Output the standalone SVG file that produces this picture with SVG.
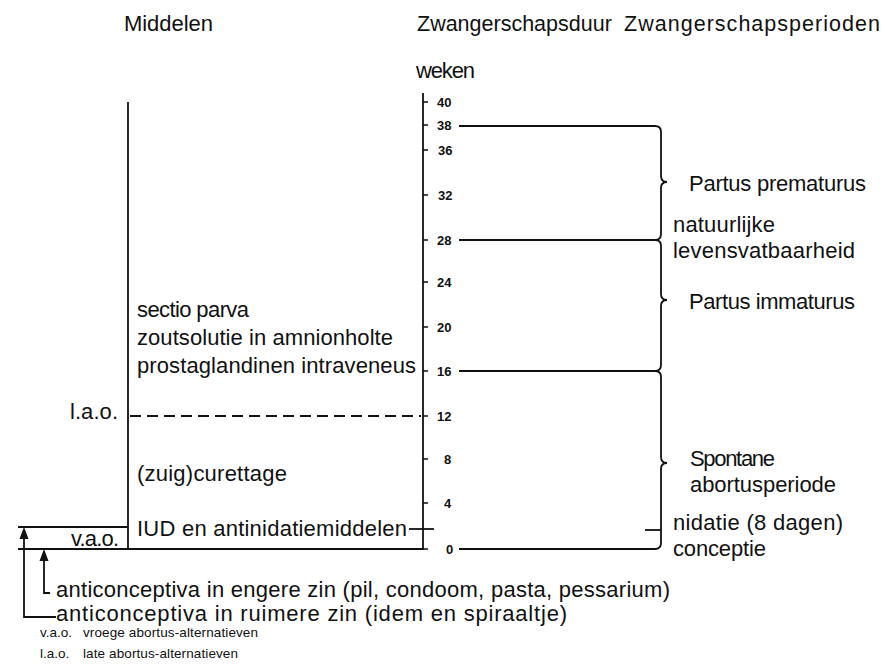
<svg xmlns="http://www.w3.org/2000/svg" width="885" height="671" viewBox="0 0 885 671">
<style>
text{font-family:"Liberation Sans",Arial,sans-serif;fill:#111}
.t{font-size:22px}
.h{font-size:21.5px}
.n{font-size:13px;font-weight:bold}
.s{font-size:13.5px}
.ln{stroke:#111;stroke-width:1.8;fill:none}
.tk{stroke:#111;stroke-width:1.6;fill:none}
.hd{fill:#111;stroke:none}
</style>
<rect width="885" height="671" fill="#fff"/>

<g id="headers">
<text class="t" x="124" y="31" textLength="89" lengthAdjust="spacing">Middelen</text>
<text class="h" x="417" y="31">Zwangerschapsduur</text>
<text class="h" x="624" y="31" textLength="256" lengthAdjust="spacing">Zwangerschapsperioden</text>
<text class="t" x="416" y="78" textLength="59" lengthAdjust="spacing">weken</text>
</g>

<g id="axis">
<line class="ln" x1="423" y1="93" x2="423" y2="550"/>
<path class="tk" d="M423 102H428M423 125H428M423 150H428M423 195H428M423 240H428M423 282H428M423 327H428M423 371H428M423 416H428M423 459H428M423 503H428M423 549H428"/>
<text class="n" x="437" y="107">40</text>
<text class="n" x="437" y="130">38</text>
<text class="n" x="438" y="155">36</text>
<text class="n" x="438" y="200">32</text>
<text class="n" x="437" y="245">28</text>
<text class="n" x="437" y="287">24</text>
<text class="n" x="437" y="332">20</text>
<text class="n" x="437" y="376">16</text>
<text class="n" x="437" y="421">12</text>
<text class="n" x="444" y="464">8</text>
<text class="n" x="444" y="508">4</text>
<text class="n" x="446" y="554">0</text>
</g>

<g id="middelen">
<line class="ln" x1="128" y1="102" x2="128" y2="549"/>
<line class="ln" x1="130" y1="416" x2="421" y2="416" stroke-dasharray="11 6"/>
<text class="t" x="137" y="317" textLength="112" lengthAdjust="spacing">sectio parva</text>
<text class="t" x="137" y="345" textLength="256" lengthAdjust="spacing">zoutsolutie in amnionholte</text>
<text class="t" x="137" y="373" textLength="279" lengthAdjust="spacing">prostaglandinen intraveneus</text>
<text class="t" x="70" y="419" textLength="48" lengthAdjust="spacing">l.a.o.</text>
<text class="t" x="137" y="481" textLength="150" lengthAdjust="spacing">(zuig)curettage</text>
<text class="t" x="137" y="536" textLength="270" lengthAdjust="spacing">IUD en antinidatiemiddelen</text>
<line class="ln" x1="409" y1="529" x2="434" y2="529"/>
<text class="t" x="71" y="546" textLength="48" lengthAdjust="spacing">v.a.o.</text>
<line class="ln" x1="18" y1="527" x2="128" y2="527"/>
<line class="ln" x1="18" y1="549" x2="423" y2="549"/>
</g>

<g id="anticonceptiva">
<text class="t" x="56" y="597" textLength="614" lengthAdjust="spacing">anticonceptiva in engere zin (pil, condoom, pasta, pessarium)</text>
<text class="t" x="56" y="621" textLength="511" lengthAdjust="spacing">anticonceptiva in ruimere zin (idem en spiraaltje)</text>
</g>

<g id="legend">
<text class="s" x="40" y="637">v.a.o.</text>
<text class="s" x="83" y="637" textLength="175" lengthAdjust="spacing">vroege abortus-alternatieven</text>
<text class="s" x="40" y="658">l.a.o.</text>
<text class="s" x="83" y="658" textLength="155" lengthAdjust="spacing">late abortus-alternatieven</text>
</g>

<g id="perioden">
<text class="t" x="689" y="191" textLength="177" lengthAdjust="spacing">Partus prematurus</text>
<text class="t" x="673" y="232" textLength="102" lengthAdjust="spacing">natuurlijke</text>
<text class="t" x="673" y="258" textLength="182" lengthAdjust="spacing">levensvatbaarheid</text>
<text class="t" x="689" y="309" textLength="166" lengthAdjust="spacing">Partus immaturus</text>
<text class="t" x="690" y="466" textLength="85" lengthAdjust="spacing">Spontane</text>
<text class="t" x="690" y="492" textLength="146" lengthAdjust="spacing">abortusperiode</text>
<text class="t" x="673" y="530" textLength="170" lengthAdjust="spacing">nidatie (8 dagen)</text>
<text class="t" x="673" y="556" textLength="93" lengthAdjust="spacing">conceptie</text>
</g>

<g id="connectors">
<path class="ln" d="M459 126H655Q661 126 661 132V176Q661 182 667 182Q661 182 661 188V234Q661 240 655 240H459"/>
<path class="ln" d="M655 240Q661 240 661 246V294Q661 300 667 300Q661 300 661 306V365Q661 371 655 371H459"/>
<path class="ln" d="M655 371Q661 371 661 377V457Q661 463 667 463Q661 463 661 469V543Q661 549 655 549H459"/>
<line class="ln" x1="645" y1="530" x2="661" y2="530"/>
<path class="ln" d="M56 617H24V536"/>
<polygon class="hd" points="24,527 19.5,539 28.5,539"/>
<path class="ln" d="M50 593H44V558"/>
<polygon class="hd" points="44,549 39.5,561 48.5,561"/>
</g>
</svg>
